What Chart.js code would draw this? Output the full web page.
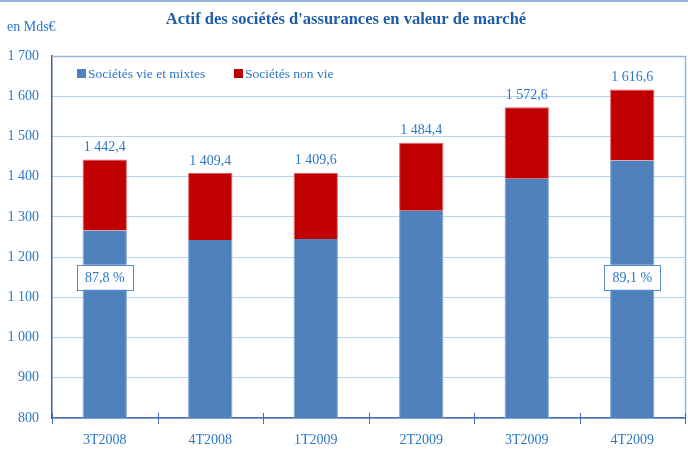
<!DOCTYPE html>
<html>
<head>
<meta charset="utf-8">
<script src="https://cdn.jsdelivr.net/npm/chart.js@4.4.1/dist/chart.umd.min.js"></script>
<style>
  html, body { margin: 0; padding: 0; background: #fff; }
  #wrap { width: 688px; height: 457px; position: relative; }
</style>
</head>
<body>
<div id="wrap"><canvas id="assurChart" width="688" height="457"></canvas></div>
<script>
const categories = ["3T2008", "4T2008", "1T2009", "2T2009", "3T2009", "4T2009"];
const vieMixtes = [1266.4, 1242.6, 1245.0, 1315.4, 1395.0, 1440.4];
const nonVie = [176.0, 166.8, 164.6, 169.0, 177.6, 176.2];
const totals = [1442.4, 1409.4, 1409.6, 1484.4, 1572.6, 1616.6];
const partVie = [87.8, null, null, null, null, 89.1];
const yTicks = [800, 900, 1000, 1100, 1200, 1300, 1400, 1500, 1600, 1700];

const blueText = "#2b78c8";
const serif = "'Liberation Serif', 'DejaVu Serif', serif";

function frNum(v, dec) {
  let s = dec ? v.toFixed(dec) : String(Math.round(v));
  let parts = s.split(".");
  parts[0] = parts[0].replace(/\B(?=(\d{3})+(?!\d))/g, " ");
  return parts.join(",");
}

// dessin du cadre, des étiquettes, de la légende
const decorPlugin = {
  id: "decor",
  afterDraw(chart) {
    const ctx = chart.ctx;
    const area = chart.chartArea;
    const x = chart.scales.x;
    const y = chart.scales.y;

    ctx.save();
    // bande en haut de l'image
    ctx.fillStyle = "#94b3da";
    ctx.fillRect(0, 0, chart.width, 2);

    // titre
    ctx.fillStyle = "#1f5ea6";
    ctx.font = "bold 16.5px " + serif;
    ctx.textAlign = "center";
    ctx.textBaseline = "middle";
    ctx.fillText("Actif des sociétés d'assurances en valeur de marché", 346, 20);

    ctx.font = "14px " + serif;
    ctx.fillStyle = blueText;
    ctx.textAlign = "left";
    ctx.fillText("en Mds€", 7, 27);

    // cadre haut et droit
    ctx.strokeStyle = "#8fb7e0";
    ctx.lineWidth = 1.5;
    ctx.beginPath();
    ctx.moveTo(area.left, area.top + 0.5);
    ctx.lineTo(area.right + 0.5, area.top + 0.5);
    ctx.lineTo(area.right + 0.5, area.bottom);
    ctx.stroke();

    // graduations de l'axe x (traversent l'axe)
    ctx.strokeStyle = "#4a6fb0";
    ctx.lineWidth = 1;
    const step = (area.right - area.left) / categories.length;
    for (let i = 0; i <= categories.length; i++) {
      const px = Math.round(area.left + i * step) + 0.5;
      ctx.beginPath();
      ctx.moveTo(px, area.bottom - 5);
      ctx.lineTo(px, area.bottom + 6);
      ctx.stroke();
    }

    // légende
    ctx.font = "13.5px " + serif;
    ctx.textBaseline = "middle";
    const legY = 73;
    const legends = [
      { label: chart.data.datasets[0].label, color: chart.data.datasets[0].backgroundColor, x: 77 },
      { label: chart.data.datasets[1].label, color: chart.data.datasets[1].backgroundColor, x: 234 },
    ];
    legends.forEach((l) => {
      ctx.fillStyle = l.color;
      ctx.fillRect(l.x, legY - 4, 9, 9);
      ctx.fillStyle = blueText;
      ctx.fillText(l.label, l.x + 11, legY + 1);
    });

    // totaux au-dessus des barres
    ctx.textAlign = "center";
    ctx.textBaseline = "bottom";
    ctx.font = "14px " + serif;
    ctx.fillStyle = blueText;
    totals.forEach((t, i) => {
      const px = x.getPixelForValue(i);
      const py = y.getPixelForValue(t);
      ctx.fillText(frNum(t, 1), px, py - 5);
    });

    // part des sociétés vie
    partVie.forEach((p, i) => {
      if (p === null) return;
      const px = x.getPixelForValue(i);
      const py = y.getPixelForValue(1150);
      const w = 56, h = 25;
      ctx.fillStyle = "#ffffff";
      ctx.fillRect(px - w / 2, py - h / 2, w, h);
      ctx.strokeStyle = "#5b8cc8";
      ctx.lineWidth = 1;
      ctx.strokeRect(Math.round(px - w / 2) + 0.5, Math.round(py - h / 2) + 0.5, w, h);
      ctx.fillStyle = blueText;
      ctx.textBaseline = "middle";
      ctx.fillText(frNum(p, 1) + " %", px, py + 1);
    });
    ctx.restore();
  },
};

const ctx = document.getElementById("assurChart").getContext("2d");
const assurChart = new Chart(ctx, {
  type: "bar",
  data: {
    labels: categories,
    datasets: [
      {
        label: "Sociétés vie et mixtes",
        data: vieMixtes,
        backgroundColor: "#4f81bd",
        borderColor: "#7ea3d1",
        borderWidth: { left: 1, right: 1, top: 0, bottom: 0 },
        barPercentage: 0.42,
        categoryPercentage: 1,
      },
      {
        label: "Sociétés non vie",
        data: nonVie,
        backgroundColor: "#c00000",
        borderColor: "#d96060",
        borderWidth: { left: 1, right: 1, top: 1, bottom: 0 },
        barPercentage: 0.42,
        categoryPercentage: 1,
      },
    ],
  },
  options: {
    animation: false,
    responsive: false,
    layout: { padding: { top: 56, right: 3, left: 0, bottom: 0 } },
    plugins: {
      legend: { display: false },
      tooltip: { enabled: false },
      title: { display: false },
    },
    scales: {
      x: {
        stacked: true,
        afterFit: function (scale) {
          scale.height = 39;
        },
        ticks: {
          color: blueText,
          font: { family: serif, size: 14 },
          padding: 14,
        },
        grid: { display: false, drawTicks: false },
        border: { color: "#4a6fb0", width: 1.5 },
      },
      y: {
        stacked: true,
        min: 800,
        max: 1700,
        afterFit: function (scale) {
          scale.width = 52;
        },
        afterBuildTicks: function (scale) {
          scale.ticks = yTicks.map((v) => ({ value: v }));
        },
        ticks: {
          color: blueText,
          font: { family: serif, size: 14 },
          padding: 13,
          callback: function (value) {
            return frNum(value);
          },
        },
        grid: {
          color: "#6fa6da",
          lineWidth: 1,
          drawTicks: false,
        },
        border: { color: "#3f5fa3", width: 1.5, dash: [1, 1] },
      },
    },
  },
  plugins: [decorPlugin],
});
</script>
</body>
</html>
